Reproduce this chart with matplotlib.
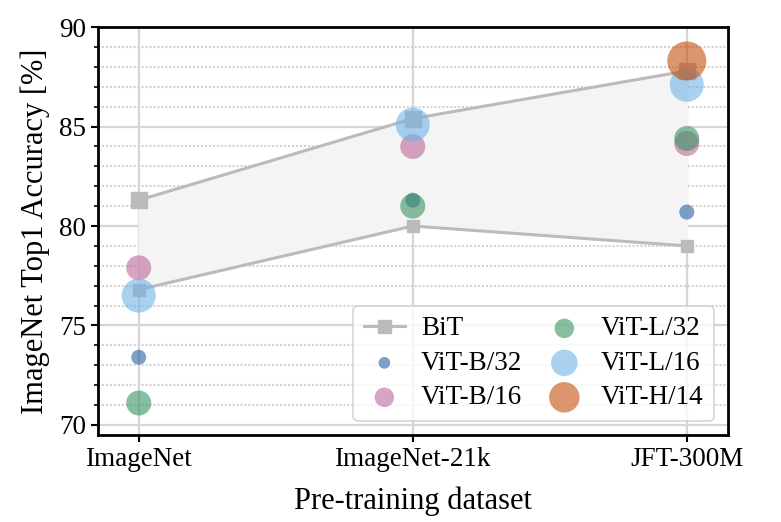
import matplotlib
matplotlib.use("Agg")
import matplotlib.pyplot as plt
from matplotlib.ticker import MultipleLocator

plt.rcParams["font.family"] = ["Liberation Serif", "DejaVu Serif"]

# --------------------------------------------------
# Data
# --------------------------------------------------
datasets = ["ImageNet", "ImageNet-21k", "JFT-300M"]

bit_upper = [81.3, 85.4, 87.8]
bit_lower = [76.8, 80.0, 79.0]

vit_names = ["ViT-B/32", "ViT-B/16", "ViT-L/32", "ViT-L/16", "ViT-H/14"]
vit_b32 = [73.4, 81.3, 80.7]
vit_b16 = [77.9, 84.0, 84.15]
vit_l32 = [71.1, 81.0, 84.4]
vit_l16 = [76.5, 85.1, 87.1]
vit_h14 = [None, None, 88.3]

vit_values = [vit_b32, vit_b16, vit_l32, vit_l16, vit_h14]
vit_colors = ["#2661a3", "#bc699b", "#399361", "#71b4e6", "#c5500d"]
vit_sizes = [117, 324, 324, 600, 790]

# --------------------------------------------------
# Figure
# --------------------------------------------------
fig = plt.figure(figsize=(7.81, 5.22), dpi=100)
ax = fig.add_axes([0.125, 0.167, 0.807, 0.781])

x = list(range(len(datasets)))
bit_color = "#bbbbbb"

ax.fill_between(x, bit_lower, bit_upper, color="#f4f4f4", zorder=1)
bit_line, = ax.plot(x, bit_upper, color=bit_color, lw=2.2, marker="s",
                    markersize=12, zorder=2, label="BiT")
ax.plot(x, bit_lower, color=bit_color, lw=2.2, marker="s",
        markersize=8.5, zorder=2)

handles = [bit_line]
for name, vals, col, size in zip(vit_names, vit_values, vit_colors, vit_sizes):
    xs = [i for i, v in zip(x, vals) if v is not None]
    ys = [v for v in vals if v is not None]
    h = ax.scatter(xs, ys, s=size, color=col, alpha=0.6, edgecolors="none",
                   zorder=3, label=name)
    handles.append(h)

# --------------------------------------------------
# Axes styling
# --------------------------------------------------
ax.set_xlim(-0.15, 2.15)
ax.set_ylim(69.5, 90)
ax.set_xticks(x)
ax.set_xticklabels(datasets, fontsize=19.5)
ax.yaxis.set_major_locator(MultipleLocator(5))
ax.yaxis.set_minor_locator(MultipleLocator(1))
ax.tick_params(axis="y", labelsize=19.5)
ax.tick_params(which="major", length=5, width=1.5)
ax.tick_params(which="minor", length=3, width=1.2)

ax.grid(True, which="major", axis="both", color="#d6d6d6", lw=1.6, zorder=0)
ax.grid(True, which="minor", axis="y", color="#d2d2d2", lw=1.5,
        linestyle=(0, (1.0, 0.9)), zorder=0)
ax.set_axisbelow(True)

for sp in ax.spines.values():
    sp.set_linewidth(2)
    sp.set_color("black")

ax.set_xlabel("Pre-training dataset", fontsize=22, labelpad=11)
ax.set_ylabel("ImageNet Top1 Accuracy [%]", fontsize=22, labelpad=6)

leg = ax.legend(handles=handles, ncol=2, loc="lower right", fontsize=19.5,
                markerscale=0.78, framealpha=0.8, edgecolor="#cccccc",
                handlelength=1.5, handletextpad=0.6, columnspacing=0.8,
                labelspacing=0.35, borderaxespad=0.5, borderpad=0.4)
leg.get_frame().set_linewidth(1.2)

fig.savefig("out.png", dpi=100)
